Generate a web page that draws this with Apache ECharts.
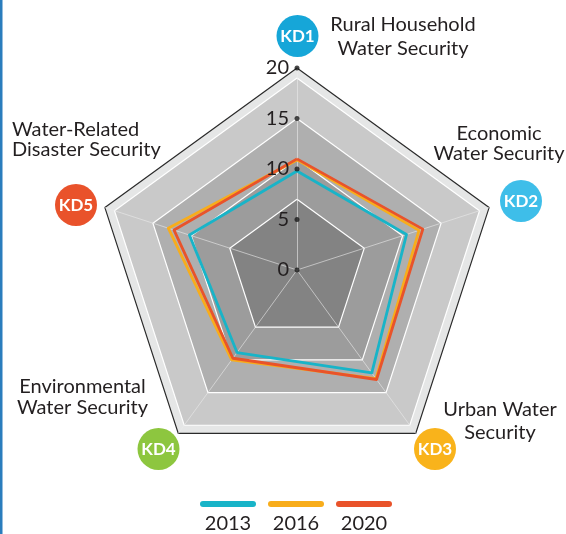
<!DOCTYPE html>
<html>
<head>
<meta charset="utf-8">
<script src="https://cdn.jsdelivr.net/npm/echarts@6/dist/echarts.min.js"></script>
<style>
  html, body { margin: 0; padding: 0; background: #fff; }
  #chart { width: 566px; height: 534px; }
</style>
</head>
<body>
<div id="chart"></div>
<script>
var codes = ['KD1', 'KD2', 'KD3', 'KD4', 'KD5'];
var names = ['Rural Household\nWater Security', 'Economic\nWater Security', 'Urban Water\nSecurity',
             'Environmental\nWater Security', 'Water-Related\nDisaster Security'];
var badgeColors = ['#16a6d8', '#3ebee9', '#f9b31b', '#8dc63f', '#e9522b'];
var years = ['2013', '2016', '2020'];
var yearColors = ['#18b4c8', '#f8ad1b', '#e9532a'];
var values2013 = [9.8, 11.4, 12.6, 10.1, 11.2];
var values2016 = [10.9, 12.7, 13.3, 11.0, 13.4];
var values2020 = [11.0, 13.1, 13.4, 10.8, 12.8];
var tickValues = [0, 5, 10, 15, 20];
// outer edges of the grey background bands (value units)
var bandEdges = [7, 11, 15, 19, 20];
var bandColors = ['#838383', '#9c9c9c', '#afafaf', '#c9c9c9', '#e5e6e6'];

// radar lays indicators out counterclockwise from the top
var drawOrder = [0, 4, 3, 2, 1];
var font = 'Lato, "Open Sans", sans-serif';
var cx = 297, cy = 270, R = 202, vmax = 20;

var lineColors = [];
for (var i = 0; i <= vmax; i++) {
  if (i === vmax) lineColors.push('#2a2a2a');
  else if (bandEdges.indexOf(i) >= 0) lineColors.push('#ffffff');
  else lineColors.push('rgba(0,0,0,0)');
}

var allValues = [values2013, values2016, values2020];
var indicator = drawOrder.map(function (i) { return { name: codes[i], min: 0, max: vmax }; });

// one filled polygon per band, biggest first
var radars = [];
for (var b = bandEdges.length - 1; b >= 0; b--) {
  radars.push({
    center: [cx, cy], radius: R * bandEdges[b] / vmax, shape: 'polygon', splitNumber: 1,
    startAngle: 90, indicator: indicator, z: (bandEdges.length - 1 - b) * 0.1,
    axisName: { show: false }, axisLine: { show: false }, axisTick: { show: false },
    axisLabel: { show: false }, splitLine: { show: false },
    splitArea: { areaStyle: { color: [bandColors[b], bandColors[b]] } }
  });
}
var mainRadar = radars.length;
radars.push({
  center: [cx, cy], radius: R, shape: 'polygon', splitNumber: vmax, startAngle: 90,
  indicator: indicator, z: 1,
  axisName: { show: false },
  axisLine: { lineStyle: { color: 'rgba(235,235,235,0.6)', width: 1 } },
  axisTick: { show: false }, axisLabel: { show: false },
  splitLine: { lineStyle: { color: lineColors, width: 1.2 } },
  splitArea: { show: false }
});

// badge / name placement
var badgePos = [[297.5, 36], [521, 201], [435, 449], [158.5, 449], [76, 205]];
var namePos = [[403, 36.5, 'center', 23.5], [499, 144, 'center', 20], [500, 421.5, 'center', 23],
               [82.5, 397, 'center', 20.7], [12, 140, 'left', 20]];

var graphics = [{ type: 'rect', shape: { x: 0, y: 0, width: 2.5, height: 534 }, style: { fill: '#2a7dbd' } }];
codes.forEach(function (c, i) {
  graphics.push({
    type: 'circle', shape: { cx: badgePos[i][0], cy: badgePos[i][1], r: 21 },
    style: { fill: badgeColors[i] }, z: 10
  });
  graphics.push({
    type: 'text', x: badgePos[i][0], y: badgePos[i][1] + 1, z: 11,
    style: { text: c, fill: '#fff', font: 'bold 17px ' + font, textAlign: 'center', textVerticalAlign: 'middle' }
  });
  graphics.push({
    type: 'text', x: namePos[i][0], y: namePos[i][1], z: 11,
    style: { text: names[i], fill: '#231f20', font: '20px ' + font, textAlign: namePos[i][2],
             textVerticalAlign: 'middle', lineHeight: namePos[i][3] }
  });
});

var richLegend = { t: { fontSize: 20, fontFamily: font, color: '#231f20', width: 56, align: 'center', lineHeight: 34 } };
years.forEach(function (y, i) {
  richLegend['l' + i] = { width: 56, height: 6, lineHeight: 6, fontSize: 1, borderRadius: 3, backgroundColor: yearColors[i] };
});

var chart = echarts.init(document.getElementById('chart'));
chart.setOption({
  animation: false,
  backgroundColor: '#fff',
  graphic: graphics,
  radar: radars,
  polar: { center: [cx, cy], radius: R },
  angleAxis: { type: 'value', min: 0, max: 360, startAngle: 90, show: false },
  radiusAxis: {
    type: 'value', min: 0, max: vmax, interval: 5, z: 5,
    axisLine: { show: false }, axisTick: { show: false }, splitLine: { show: false },
    axisLabel: { fontSize: 20, fontFamily: font, color: '#231f20', margin: 8 }
  },
  legend: {
    data: years,
    left: 190, top: 496,
    itemWidth: 0, itemHeight: 0, itemGap: 7,
    itemStyle: { opacity: 0 }, lineStyle: { opacity: 0 },
    formatter: function (n) { return '{l' + years.indexOf(n) + '|}\n{t|' + n + '}'; },
    textStyle: { rich: richLegend }
  },
  series: years.map(function (y, k) {
    return {
      name: y, type: 'radar', radarIndex: mainRadar, symbol: 'none', z: 3 + k,
      lineStyle: { color: yearColors[k], width: 2.8 },
      itemStyle: { color: yearColors[k] },
      data: [{ name: y, value: drawOrder.map(function (i) { return allValues[k][i]; }) }]
    };
  }).concat([{
    type: 'scatter', coordinateSystem: 'polar', silent: true, z: 8,
    symbolSize: 5, itemStyle: { color: '#1a1a1a' },
    data: tickValues.map(function (v) { return [v, 0]; })
  }])
});
</script>
</body>
</html>
